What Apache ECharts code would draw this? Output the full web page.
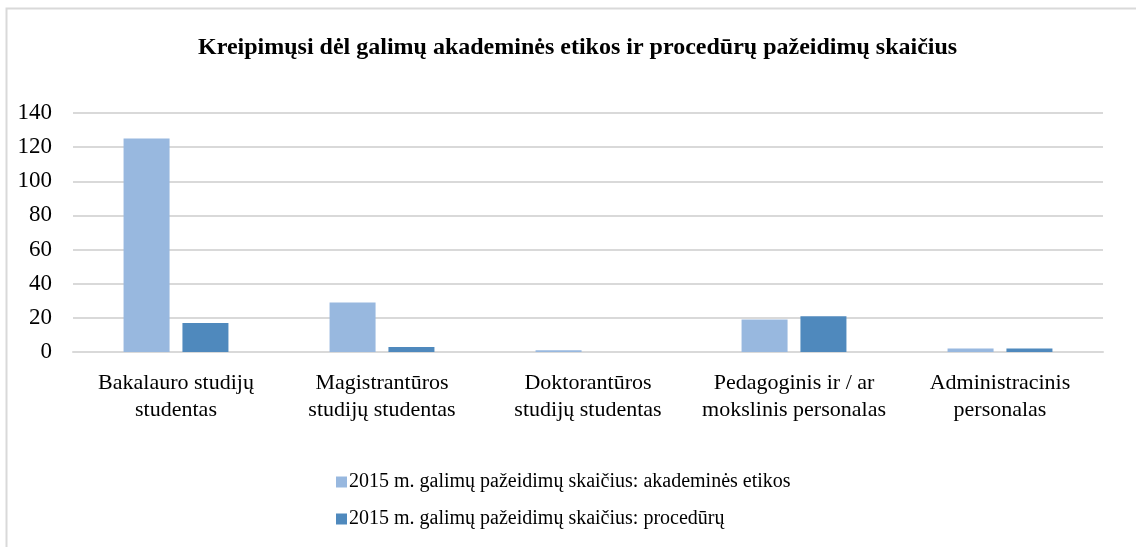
<!DOCTYPE html>
<html>
<head>
<meta charset="utf-8">
<script src="https://cdn.jsdelivr.net/npm/echarts@6/dist/echarts.min.js"></script>
<style>
  html, body { margin: 0; padding: 0; background: #fff; }
  #chart { width: 1136px; height: 547px; }
</style>
</head>
<body>
<div id="chart"></div>
<script>
// duomenys
const categories = [
  'Bakalauro studijų\nstudentas',
  'Magistrantūros\nstudijų studentas',
  'Doktorantūros\nstudijų studentas',
  'Pedagoginis ir / ar\nmokslinis personalas',
  'Administracinis\npersonalas'
]
const etikosValues = [125, 29, 1, 19, 2]
const proceduruValues = [17, 3, 0, 21, 2]
const seriesNames = [
  '2015 m. galimų pažeidimų skaičius: akademinės etikos',
  '2015 m. galimų pažeidimų skaičius: procedūrų'
]

const font = '"Liberation Serif", "DejaVu Serif", serif'
const chart = echarts.init(document.getElementById('chart'))

chart.setOption({
  backgroundColor: '#fff',
  animation: false,
  textStyle: { fontFamily: font },
  graphic: [{
    type: 'rect',
    shape: { x: 6.5, y: 8.5, width: 1200, height: 600 },
    style: { fill: 'none', stroke: '#d9d9d9', lineWidth: 2 },
    silent: true
  }],
  title: {
    text: 'Kreipimųsi dėl galimų akademinės etikos ir procedūrų pažeidimų skaičius',
    left: 193,
    top: 31,
    textStyle: { fontFamily: font, fontSize: 24, fontWeight: 'bold', color: '#000' }
  },
  legend: {
    orient: 'vertical',
    left: 331,
    top: 467,
    itemGap: 17,
    itemWidth: 11,
    itemHeight: 11,
    icon: 'rect',
    textStyle: { fontFamily: font, fontSize: 20, color: '#000', padding: [0, 0, 0, -3] },
    data: seriesNames
  },
  grid: { left: 73, right: 33, top: 113, bottom: 195 },
  xAxis: {
    type: 'category',
    data: categories,
    axisLine: { lineStyle: { color: '#d9d9d9', width: 2 } },
    axisTick: { show: false },
    axisLabel: {
      color: '#000',
      fontFamily: font,
      fontSize: 22,
      lineHeight: 27,
      margin: 18,
      interval: 0
    }
  },
  yAxis: {
    type: 'value',
    min: 0,
    max: 140,
    interval: 20,
    axisLine: { show: false },
    axisTick: { show: false },
    splitLine: { lineStyle: { color: '#d9d9d9', width: 2 } },
    axisLabel: { color: '#000', fontFamily: font, fontSize: 23, margin: 21 }
  },
  series: [
    {
      name: seriesNames[0],
      type: 'bar',
      data: etikosValues,
      barWidth: 46,
      barGap: '28%',
      itemStyle: { color: '#98b8df' }
    },
    {
      name: seriesNames[1],
      type: 'bar',
      data: proceduruValues,
      barWidth: 46,
      itemStyle: { color: '#4f89bd' }
    }
  ]
})
</script>
</body>
</html>
